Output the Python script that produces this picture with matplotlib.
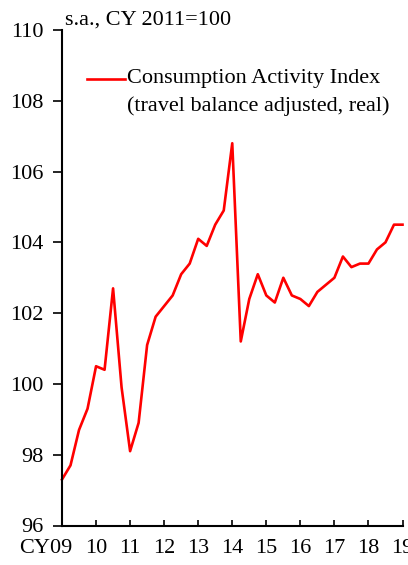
import matplotlib
matplotlib.use('Agg')
import matplotlib.pyplot as plt
import matplotlib.transforms as mtransforms
import numpy as np

# quarterly, CY2009 Q1 .. CY2019 Q1
cai = [97.3, 97.7, 98.7, 99.3,
       100.5, 100.4, 102.7, 99.9,
       98.1, 98.9, 101.1, 101.9,
       102.2, 102.5, 103.1, 103.4,
       104.1, 103.9, 104.5, 104.9,
       106.8, 101.2, 102.4, 103.1,
       102.5, 102.3, 103.0, 102.5,
       102.4, 102.2, 102.6, 102.8,
       103.0, 103.6, 103.3, 103.4,
       103.4, 103.8, 104.0, 104.5,
       104.5]
year_labels = ['CY09', '10', '11', '12', '13', '14', '15', '16', '17', '18', '19']
label_line1 = 'Consumption Activity Index'
label_line2 = '(travel balance adjusted, real)'
unit_note = 's.a., CY 2011=100'

plt.rcParams['font.family'] = ['Liberation Serif', 'DejaVu Serif']
plt.rcParams['font.size'] = 16

W, H = 408, 565
L, R, T, B = 62, 402.5, 30, 525.5
fig = plt.figure(figsize=(W / 100, H / 100), dpi=100)
ax = fig.add_axes([L / W, 1 - B / H, (R - L) / W, (B - T) / H])

x = np.arange(len(cai))
line, = ax.plot(x, cai, color='#ff0000', lw=1.9, clip_on=False)

ax.set_xlim(0, 40)
ax.set_ylim(96, 110)
ax.set_yticks(np.arange(96, 111, 2))
ax.set_xticks(np.arange(0, 41, 4))
ax.set_xticklabels(year_labels)

for side in ['top', 'right']:
    ax.spines[side].set_visible(False)
for side in ['left', 'bottom']:
    ax.spines[side].set_linewidth(1.5)
ax.tick_params(axis='y', direction='out', length=6.2, width=1.2, pad=7)
ax.tick_params(axis='x', direction='in', length=4, width=1.2, pad=10)

# first label sits left of its tick in the original
first = ax.get_xticklabels()[0]
first.set_transform(first.get_transform() +
                    mtransforms.ScaledTranslation(-16 / 100, 0, fig.dpi_scale_trans))

def ax_xy(px, py):
    return (px - L) / (R - L), 1 - (py - T) / (B - T)

ax.text(*ax_xy(65, 25), unit_note, transform=ax.transAxes, ha='left', va='baseline')

# legend key drawn by hand so the line sits on the first text line
x0, y0 = ax_xy(87, 79)
x1, _ = ax_xy(125, 79)
ax.plot([x0, x1], [y0, y0], transform=ax.transAxes, color=line.get_color(), lw=1.9)
tx, _ = ax_xy(127, 79)
ax.text(tx, y0, label_line1, transform=ax.transAxes, ha='left', va='center')
_, y2 = ax_xy(127, 106)
ax.text(tx, y2, label_line2, transform=ax.transAxes, ha='left', va='center')

fig.savefig('out.png', dpi=100)
